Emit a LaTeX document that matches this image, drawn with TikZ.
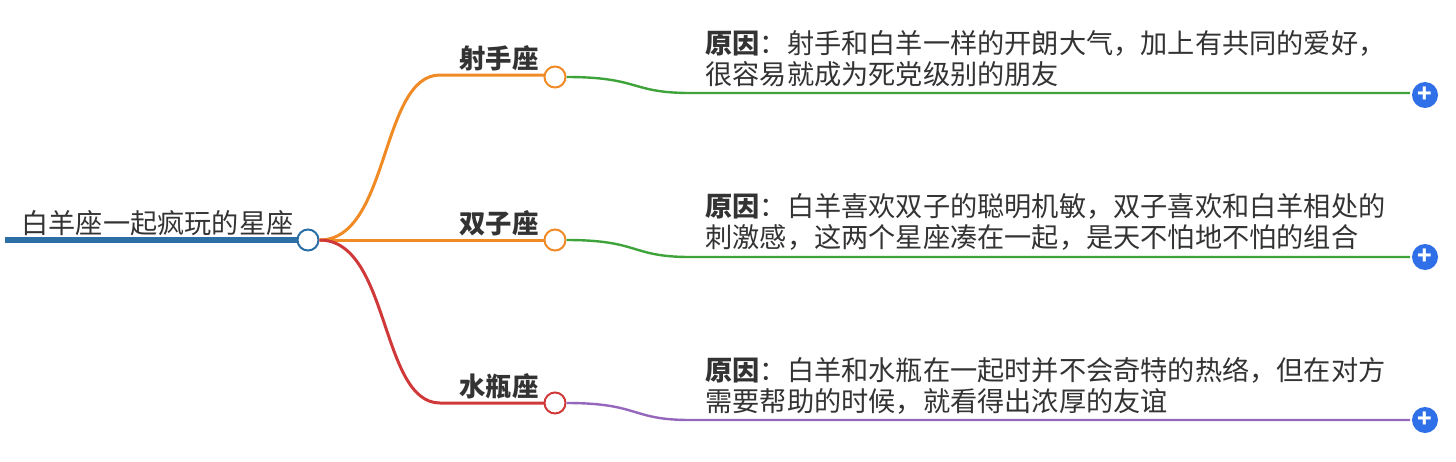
\documentclass[tikz,border=0pt]{standalone}
\usepackage{fontspec}
\setmainfont{Noto Sans CJK SC}
\usetikzlibrary{positioning}
\definecolor{rootblue}{HTML}{2B6FA6}
\definecolor{orangeb}{HTML}{F08A24}
\definecolor{redb}{HTML}{D0393A}
\definecolor{greenb}{HTML}{3EA33A}
\definecolor{purpleb}{HTML}{9467BD}
\definecolor{plusblue}{HTML}{2F6FE8}
\definecolor{txt}{HTML}{333333}

\tikzset{
  knob/.style={circle, draw=#1, fill=white, line width=1pt, inner sep=0pt, minimum size=10.5pt},
  plus/.style={circle, fill=plusblue, text=white, inner sep=0pt, minimum size=13pt, font=\bfseries\fontsize{12}{12}\selectfont},
  branch/.style={font=\bfseries\fontsize{13.2}{13}\selectfont, text=txt, anchor=south east, inner sep=1pt},
  reason/.style={font=\fontsize{13.6}{15.5}\selectfont, text=txt, anchor=north west, align=left, inner sep=0pt},
}

\begin{document}
\begin{tikzpicture}[x=0.5pt, y=-0.5pt]
  \useasboundingbox (0,0) rectangle (1456,461);

  % -- radice --
  \draw[rootblue, line width=2.6pt] (5,240) -- (298,240);
  \node[font=\fontsize{13.6}{13}\selectfont, text=txt, anchor=south west, inner sep=1pt] (root) at (19,238) {白羊座一起疯玩的星座};
  \node[knob=rootblue] (c0) at (308,240) {};

  % -- rami --
  \coordinate (s1) at (440,75);
  \coordinate (s3) at (440,403);
  \draw[orangeb, line width=1.5pt] (c0.east) .. controls (390,240) and (380,75) .. (s1) -- (545,75);
  \draw[orangeb, line width=1.5pt] (c0.east) -- (545,240);
  \draw[redb, line width=1.5pt] (c0.east) .. controls (390,240) and (380,403) .. (s3) -- (545,403);
  \node[knob=orangeb] (c1) at (555,77) {};
  \node[knob=orangeb] (c2) at (555,240) {};
  \node[knob=redb] (c3) at (555,403) {};
  \node[branch] (b1) at (541,73) {射手座};
  \node[branch] (b2) at (541,238) {双子座};
  \node[branch] (b3) at (541,401) {水瓶座};

  % -- foglie --
  \node[plus] (p1) at (1425,95) {+};
  \node[plus] (p2) at (1425,257) {+};
  \node[plus] (p3) at (1425,420) {+};
  \draw[greenb, line width=1.2pt] (c1.east) .. controls (640,77) and (630,93) .. (690,93) -- (1410,93);
  \draw[greenb, line width=1.2pt] (c2.east) .. controls (640,240) and (630,257) .. (690,257) -- (1410,257);
  \draw[purpleb, line width=1.2pt] (c3.east) .. controls (640,403) and (630,420) .. (690,420) -- (1410,420);

  \node[reason] (r1) at (705,30) {\textbf{原因}：射手和白羊一样的开朗大气，加上有共同的爱好，\\很容易就成为死党级别的朋友};
  \node[reason] (r2) at (705,193) {\textbf{原因}：白羊喜欢双子的聪明机敏，双子喜欢和白羊相处的\\刺激感，这两个星座凑在一起，是天不怕地不怕的组合};
  \node[reason] (r3) at (705,357) {\textbf{原因}：白羊和水瓶在一起时并不会奇特的热络，但在对方\\需要帮助的时候，就看得出浓厚的友谊};
\end{tikzpicture}
\end{document}
